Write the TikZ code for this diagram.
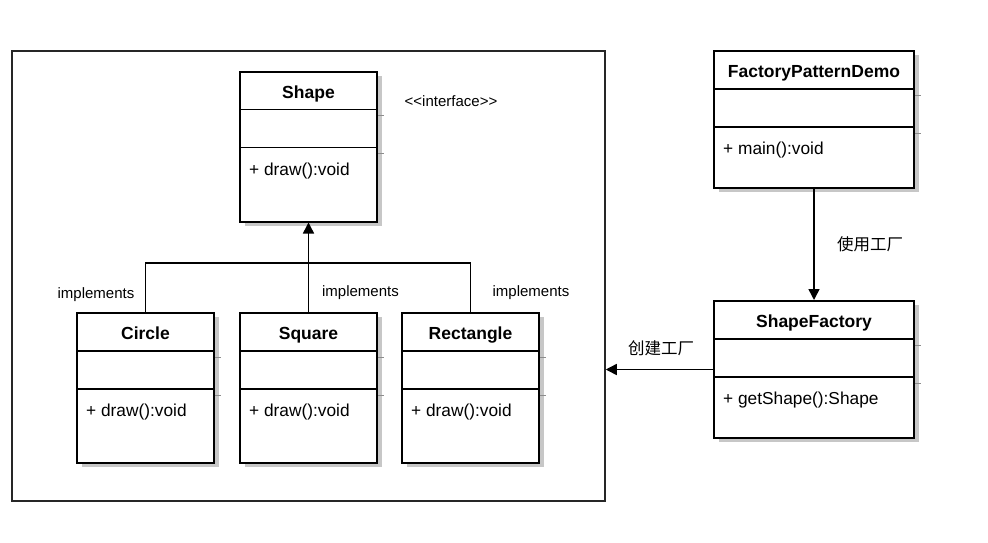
\documentclass[tikz,border=0pt]{standalone}
\usepackage{fontspec}
\setmainfont{Liberation Sans}
\newfontfamily\cjk{Noto Sans CJK SC}
\usetikzlibrary{arrows.meta, shadows}

\tikzset{
    cls/.style={draw, line width=2pt, fill=white, inner sep=0pt,
        minimum width=137pt, minimum height=150pt,
        drop shadow={shadow xshift=4.5pt, shadow yshift=-4pt, fill=black!22, opacity=1}},
    divline/.style={line width=1.6pt},
    shadetick/.style={black!45, line width=0.8pt},
    clstitle/.style={anchor=base, inner sep=0pt, font=\bfseries\fontsize{17.5}{20}\selectfont},
    member/.style={anchor=base west, inner sep=0pt, font=\fontsize{17.3}{20}\selectfont},
    lbl/.style={inner sep=0pt, font=\fontsize{15}{18}\selectfont},
    cjklbl/.style={inner sep=0pt, font=\cjk\fontsize{16.5}{18}\selectfont},
    link/.style={line width=1.5pt},
    tip/.style={-{Triangle[width=11pt, length=11pt]}},
}

\begin{document}
\begin{tikzpicture}[x=1pt, y=-1pt]
    \useasboundingbox (0, 0) rectangle (988, 542);

    % frame round the shapes
    \node[draw, line width=1.5pt, black!85, minimum width=593pt, minimum height=450pt, inner sep=0pt] (frame) at(308.5, 276) {};

    % the interface
    \node[cls] (shapeif) at(308.5, 146.5) {};
    \draw[divline] ([yshift=-39pt]shapeif.north west)--([yshift=-39pt]shapeif.north east);
    \draw[divline] ([yshift=-77pt]shapeif.north west)--([yshift=-77pt]shapeif.north east);
    \draw[shadetick] ([yshift=-45pt]shapeif.north east)--++(6, 0);
    \draw[shadetick] ([yshift=-83pt]shapeif.north east)--++(6, 0);
    \node[clstitle] (shapeif-t) at([yshift=-27.5pt]shapeif.north) {Shape};
    \node[member] (shapeif-m) at([xshift=10pt, yshift=-104.5pt]shapeif.north west) {+ draw():void};
    \node[lbl] (ifnote) at(451, 101) {{<}{<}interface{>}{>}};

    % the three implementations
    \foreach \nm/\cx/\ttl in {circ/145.5/Circle, sq/308.5/Square, rect/470.5/Rectangle} {
        \node[cls] (\nm) at(\cx, 388) {};
        \draw[divline] ([yshift=-39pt]\nm.north west)--([yshift=-39pt]\nm.north east);
        \draw[divline] ([yshift=-77pt]\nm.north west)--([yshift=-77pt]\nm.north east);
        \draw[shadetick] ([yshift=-45pt]\nm.north east)--++(6, 0);
        \draw[shadetick] ([yshift=-83pt]\nm.north east)--++(6, 0);
        \node[clstitle] (\nm-t) at([yshift=-27.5pt]\nm.north) {\ttl};
        \node[member] (\nm-m) at([xshift=10pt, yshift=-104.5pt]\nm.north west) {+ draw():void};
    }

    \draw[link, tip] (sq.north)--(shapeif.south);
    \draw[link] (circ.north)--++(0, -49) -| (rect.north);
    \node[lbl] (impl1) at(96, 295) {implements};
    \node[lbl] (impl2) at(360.5, 293) {implements};
    \node[lbl] (impl3) at(531, 293) {implements};

    % client and factory
    \node[cls, minimum width=200pt, minimum height=137pt] (demo) at(814, 119.5) {};
    \draw[divline] ([yshift=-39pt]demo.north west)--([yshift=-39pt]demo.north east);
    \draw[divline] ([yshift=-77pt]demo.north west)--([yshift=-77pt]demo.north east);
    \draw[shadetick] ([yshift=-45pt]demo.north east)--++(6, 0);
    \draw[shadetick] ([yshift=-83pt]demo.north east)--++(6, 0);
    \node[clstitle] (demo-t) at([yshift=-27pt]demo.north) {FactoryPatternDemo};
    \node[member] (demo-m) at([xshift=10pt, yshift=-104pt]demo.north west) {+ main():void};

    \node[cls, minimum width=200pt, minimum height=137pt] (factory) at(814, 369.5) {};
    \draw[divline] ([yshift=-39pt]factory.north west)--([yshift=-39pt]factory.north east);
    \draw[divline] ([yshift=-77pt]factory.north west)--([yshift=-77pt]factory.north east);
    \draw[shadetick] ([yshift=-45pt]factory.north east)--++(6, 0);
    \draw[shadetick] ([yshift=-83pt]factory.north east)--++(6, 0);
    \node[clstitle] (factory-t) at([yshift=-27pt]factory.north) {ShapeFactory};
    \node[member] (factory-m) at([xshift=10pt, yshift=-104pt]factory.north west) {+ getShape():Shape};

    \draw[link, tip] (demo.south)--(factory.north);
    \node[cjklbl] (uses) at(870, 244) {使用工厂};
    \draw[link, tip] (factory.west)--(factory.west -| frame.east);
    \node[cjklbl] (creates) at(661, 348) {创建工厂};
\end{tikzpicture}
\end{document}
